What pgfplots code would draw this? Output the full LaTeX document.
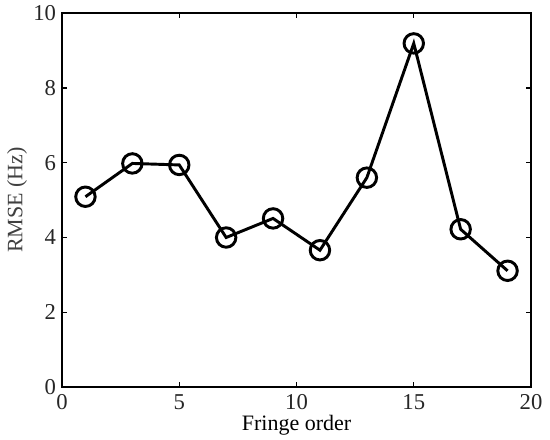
\documentclass[border=0pt]{standalone}
\usepackage{pgfplots}
\pgfplotsset{compat=1.18}
\usepackage{fontspec}
\setmainfont{Liberation Serif}
\begin{document}
\begin{tikzpicture}[x=1pt,y=1pt]
\begin{axis}[
  scale only axis,
  width=351.75pt, height=280.5pt,
  xmin=0, xmax=20, ymin=0, ymax=10,
  xtick={0,5,10,15,20}, ytick={0,2,4,6,8,10},
  xticklabels={0,5,10,15,20}, yticklabels={0,2,4,6,8,10},
  tick align=inside, major tick length=4pt,
  axis line style={line width=1.2pt},
  every tick/.style={line width=1pt, black},
  tick label style={font=\fontsize{17}{18}\selectfont, text=black!85},
  xticklabel style={yshift=-2pt},
  yticklabel style={xshift=-1pt},
  label style={font=\fontsize{16.5}{18}\selectfont},
  xlabel={Fringe order},
  ylabel={RMSE (Hz)},
  xlabel style={at={(axis description cs:0.5,-0.102)}, anchor=center},
  ylabel style={at={(axis description cs:-0.096,0.5)}, anchor=center, rotate=0, text=black!75},
  clip=false,
]
\addplot[black, line width=2.2pt, mark=o, mark size=7.3pt, mark options={line width=2.2pt}]
coordinates {(1,5.09) (3,5.98) (5,5.94) (7,4.0) (9,4.51) (11,3.66) (13,5.6) (15,9.19) (17,4.22) (19,3.11)};
\coordinate (bl) at (axis cs:-2.644,-1.39);
\coordinate (tr) at (axis cs:20.81,10.35);
\end{axis}
\pgfresetboundingbox
\path[use as bounding box] (bl) rectangle (tr);
\end{tikzpicture}
\end{document}
